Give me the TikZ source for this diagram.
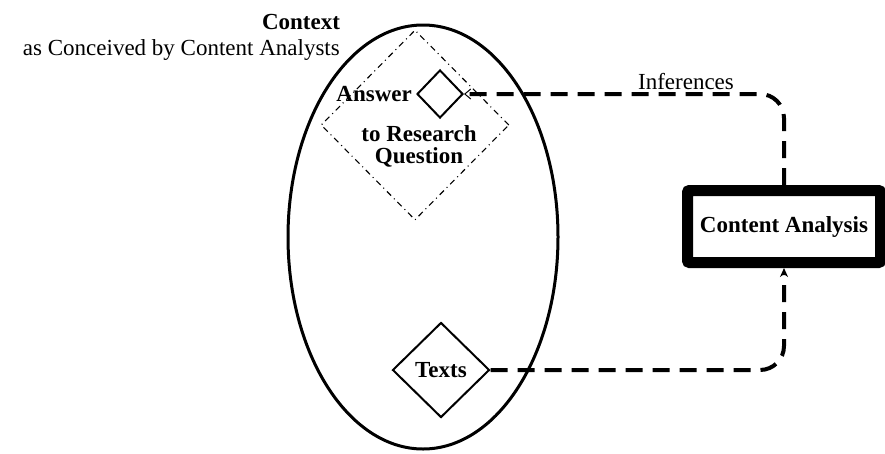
\documentclass[tikz,border=0pt]{standalone}
\usepackage{fontspec}
\setmainfont{Liberation Serif}
\usetikzlibrary{arrows.meta, positioning, shapes.geometric}

\begin{document}
\begin{tikzpicture}[x=1pt, y=-1pt,
        every node/.style={font=\fontsize{23}{22}\selectfont},
        ctx/.style={ellipse, draw, line width=3pt, minimum width=270pt, minimum height=424pt},
        rqdiamond/.style={diamond, draw, line width=1.1pt, dash pattern=on 6pt off 4pt on 1pt off 4pt, minimum width=188pt, minimum height=190pt, inner sep=0pt},
        item/.style={diamond, draw, line width=2pt, inner sep=0pt, font=\fontsize{23}{22}\selectfont\bfseries},
        analysis/.style={rectangle, draw, line width=11pt, rounded corners=2pt, minimum width=193pt, minimum height=72pt, font=\fontsize{23}{22}\selectfont\bfseries},
        flow/.style={line width=4pt, dash pattern=on 17pt off 10pt, rounded corners=24pt}
    ]
        \useasboundingbox (0,0) rectangle (885,453);

        % Context ellipse
        \node[ctx] (context) at (423,237) {};
        \node[font=\fontsize{23}{22}\selectfont\bfseries, inner sep=0pt] (ctxtitle) at (301,22) {Context};
        \node[anchor=east, inner sep=0pt] (ctxsub) at (340,50) {as Conceived by Content Analysts};

        % Answer to research question
        \node[rqdiamond] (rq) at (415,125) {};
        \node[item, minimum width=46pt, minimum height=48pt] (ans) at (440,94) {};
        \node[left=4pt of ans, inner sep=0pt, font=\fontsize{23}{22}\selectfont\bfseries] (anslabel) {Answer};
        \node[align=center, inner sep=0pt, font=\fontsize{23}{22}\selectfont\bfseries] (rqlabel) at (419,146) {to Research\\Question};

        % Texts
        \node[item, minimum width=97pt, minimum height=95pt] (texts) at (441,370) {Texts};

        % Content analysis
        \node[analysis] (ca) at (784,226.5) {Content Analysis};

        % Connectors
        \draw[flow, -{Stealth[length=9pt, width=8pt]}] (texts.east) -| (ca.south);
        \draw[flow, -{Straight Barb[length=6pt, width=10pt, line width=1pt]}] (ca.north) |- (ans.east);
        \node[inner sep=0pt] (inflabel) at (686,82) {Inferences};
    \end{tikzpicture}
\end{document}
